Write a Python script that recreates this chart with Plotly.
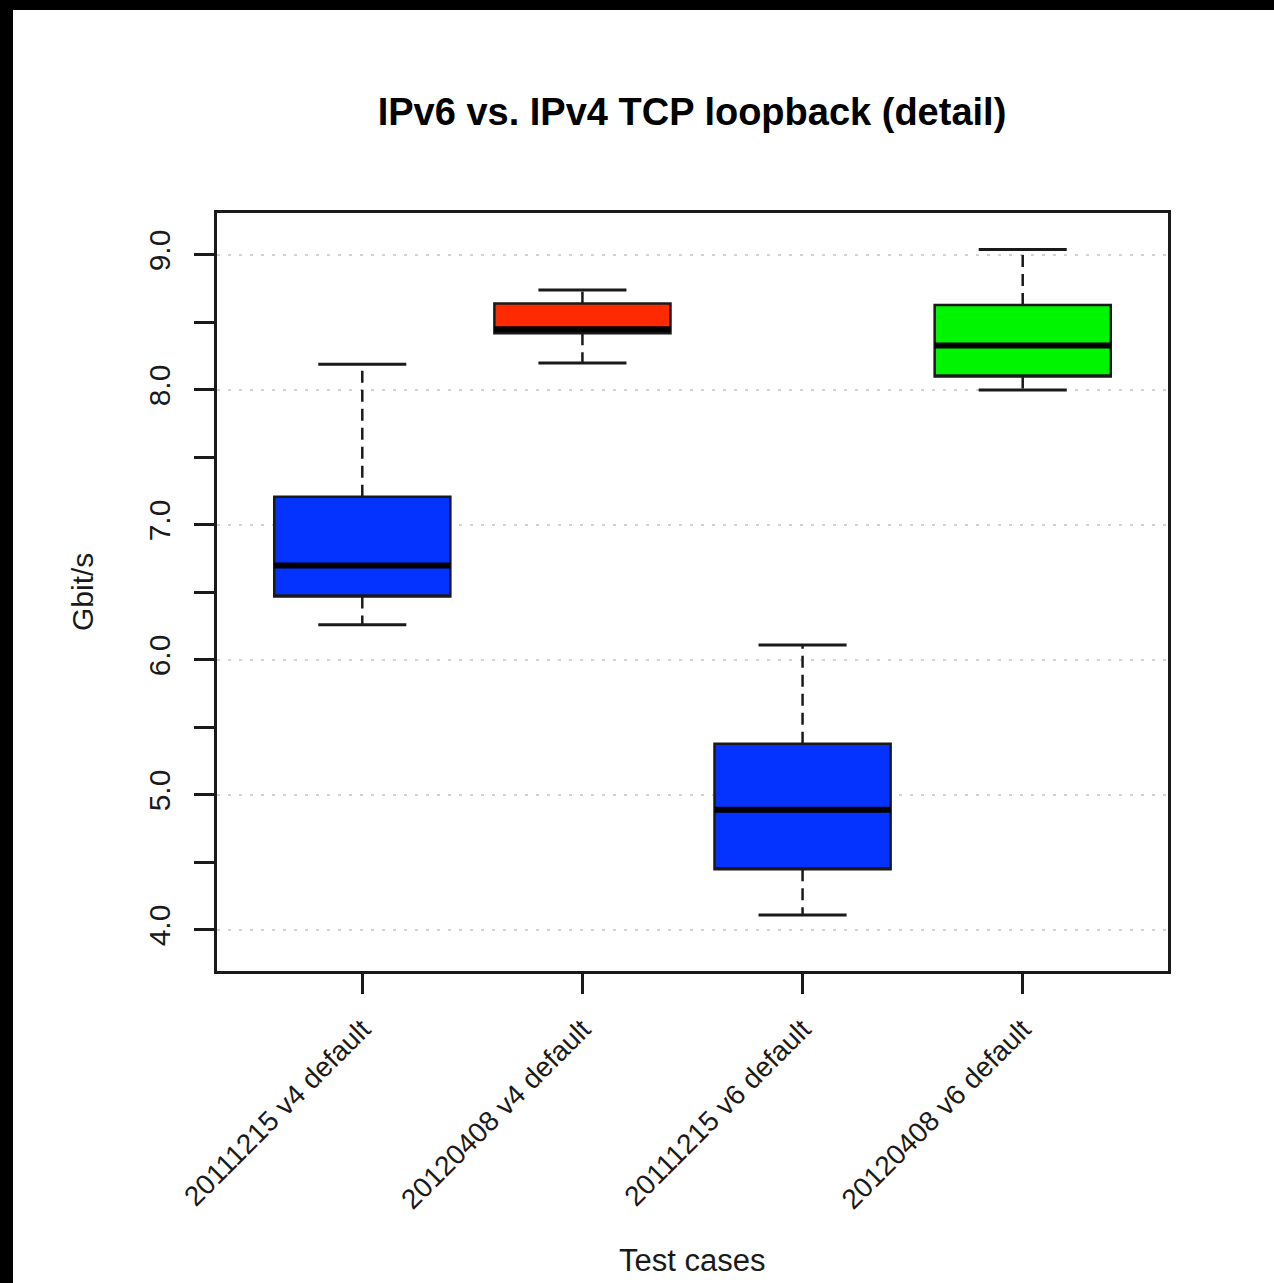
import plotly.graph_objects as go

# ---- data ----
categories = ["20111215 v4 default", "20120408 v4 default",
              "20111215 v6 default", "20120408 v6 default"]
lower_whisker = [6.26, 8.20, 4.11, 8.00]
q1_values = [6.47, 8.42, 4.45, 8.10]
median_values = [6.70, 8.45, 4.89, 8.33]
q3_values = [7.21, 8.64, 5.38, 8.63]
upper_whisker = [8.19, 8.74, 6.11, 9.04]
box_colors = ["#0433FF", "#FF2A00", "#0433FF", "#00F500"]
y_tick_values = [4, 5, 6, 7, 8, 9]

title_text = "IPv6 vs. IPv4 TCP loopback (detail)"
x_title = "Test cases"
y_title = "Gbit/s"

# ---- layout geometry ----
W, H = 1274, 1283
ML, MR, MT, MB = 217, 106, 213, 312
PW, PH = W - ML - MR, H - MT - MB
BOX_W = 0.8
CAP_W = 0.4
FONT = "Liberation Sans, Arial, Helvetica, sans-serif"
INK = "#1a1a1a"

positions = list(range(1, len(categories) + 1))

fig = go.Figure()

# boxes (body only; whiskers drawn separately so they can be dashed)
for pos, lo, q1, med, q3, hi, col in zip(positions, lower_whisker, q1_values,
                                         median_values, q3_values, upper_whisker, box_colors):
    fig.add_trace(go.Box(
        x=[pos], q1=[q1], median=[q1], q3=[q3],
        lowerfence=[q1], upperfence=[q3],
        width=BOX_W, fillcolor=col,
        line=dict(color=INK, width=2.5),
        whiskerwidth=0, boxpoints=False, showlegend=False, hoverinfo="skip",
    ))

# dashed whiskers
wx, wy = [], []
for pos, lo, q1, q3, hi in zip(positions, lower_whisker, q1_values, q3_values, upper_whisker):
    wx += [pos, pos, None, pos, pos, None]
    wy += [q3, hi, None, q1, lo, None]
fig.add_trace(go.Scatter(x=wx, y=wy, mode="lines",
                         line=dict(color=INK, width=2.5, dash="12px,7px"),
                         showlegend=False, hoverinfo="skip"))

# caps
cx, cy = [], []
for pos, lo, hi in zip(positions, lower_whisker, upper_whisker):
    cx += [pos - CAP_W / 2, pos + CAP_W / 2, None, pos - CAP_W / 2, pos + CAP_W / 2, None]
    cy += [hi, hi, None, lo, lo, None]
fig.add_trace(go.Scatter(x=cx, y=cy, mode="lines",
                         line=dict(color=INK, width=3),
                         showlegend=False, hoverinfo="skip"))

# medians (thick)
mx, my = [], []
for pos, med in zip(positions, median_values):
    mx += [pos - BOX_W / 2, pos + BOX_W / 2, None]
    my += [med, med, None]
fig.add_trace(go.Scatter(x=mx, y=my, mode="lines",
                         line=dict(color="black", width=6),
                         showlegend=False, hoverinfo="skip"))

# black border strips (from the screenshot frame)
def px_to_paper_x(px):
    return (px - ML) / PW

def px_to_paper_y(py):
    return (H - MB - py) / PH

fig.add_shape(type="rect", xref="paper", yref="paper",
              x0=px_to_paper_x(0), x1=px_to_paper_x(13),
              y0=px_to_paper_y(H), y1=px_to_paper_y(0),
              fillcolor="black", line=dict(width=0))
fig.add_shape(type="rect", xref="paper", yref="paper",
              x0=px_to_paper_x(0), x1=px_to_paper_x(W),
              y0=px_to_paper_y(10), y1=px_to_paper_y(0),
              fillcolor="black", line=dict(width=0))

fig.update_layout(
    width=W, height=H,
    margin=dict(l=ML, r=MR, t=MT, b=MB, autoexpand=False),
    paper_bgcolor="white", plot_bgcolor="white",
    font=dict(family=FONT, color=INK),
    title=dict(text="<b>" + title_text + "</b>", x=px_to_paper_x(692), xref="paper",
               y=1 - 112 / H, yref="container", xanchor="center", yanchor="middle",
               font=dict(size=38, color="black", family=FONT)),
    showlegend=False,
)

fig.update_xaxes(
    range=[0.34, 4.66], tickmode="array", tickvals=positions, ticktext=categories,
    tickangle=-45, tickfont=dict(size=28, color=INK),
    ticks="outside", ticklen=20, tickwidth=2.5, tickcolor=INK,
    showgrid=False, zeroline=False,
    showline=True, linecolor=INK, linewidth=2.5, mirror=True,
    ticklabelstandoff=8,
)
fig.update_yaxes(
    range=[3.696, 9.311], tickmode="array", tickvals=y_tick_values,
    ticktext=[f"{v:.1f}" for v in y_tick_values],
    tickangle=-90, tickfont=dict(size=30, color=INK),
    ticks="outside", ticklen=20, tickwidth=2.5, tickcolor=INK,
    minor=dict(dtick=0.5, tick0=0, ticks="outside", ticklen=20, tickwidth=2.5,
               tickcolor=INK, showgrid=False),
    showgrid=True, gridcolor="#d3d3d3", gridwidth=2, griddash="3px,8px",
    zeroline=False,
    showline=True, linecolor=INK, linewidth=2.5, mirror=True,
    ticklabelstandoff=12,
)

fig.add_annotation(text=x_title, xref="paper", yref="paper",
                   x=px_to_paper_x(692), y=px_to_paper_y(1260),
                   xanchor="center", yanchor="middle", showarrow=False,
                   font=dict(size=31, color=INK, family=FONT))
fig.add_annotation(text=y_title, xref="paper", yref="paper",
                   x=px_to_paper_x(82), y=px_to_paper_y(592),
                   xanchor="center", yanchor="middle", showarrow=False, textangle=-90,
                   font=dict(size=30, color=INK, family=FONT))

fig.write_html("out.html")
